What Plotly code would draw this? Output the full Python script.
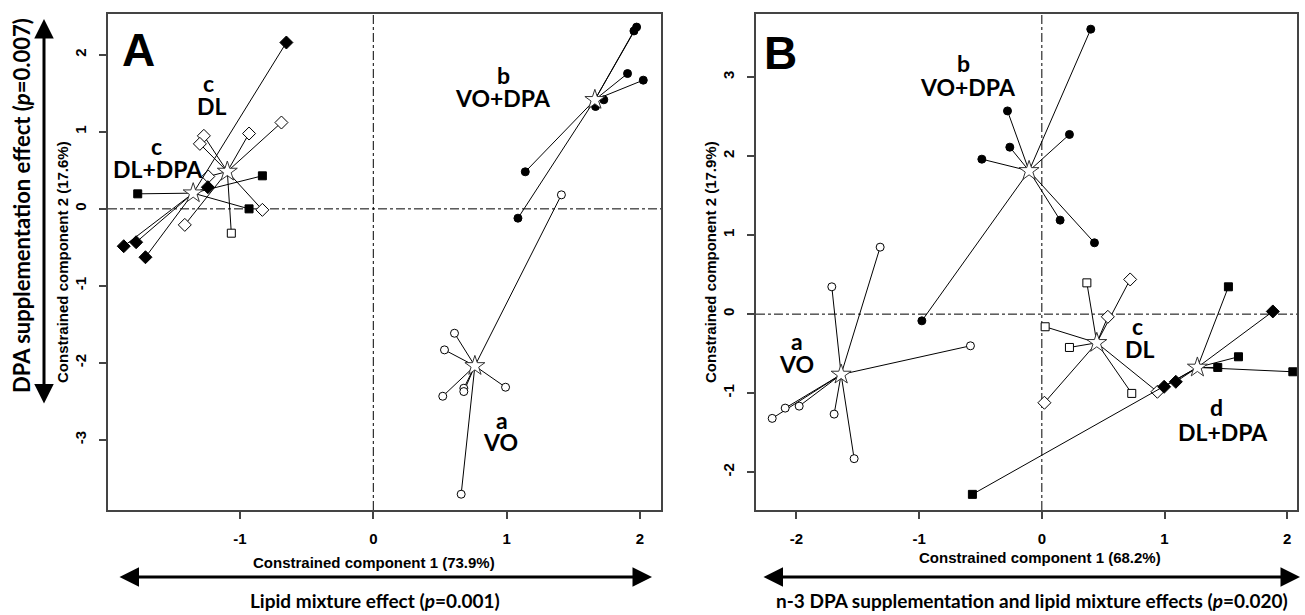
import plotly.graph_objects as go

W, H = 1305, 615

# ---------------- Panel A data ----------------
A_VO_x = [1.411, 0.609, 0.534, 0.521, 0.679, 0.679, 0.992, 0.659]
A_VO_y = [0.182, -1.615, -1.831, -2.433, -2.329, -2.372, -2.316, -3.705]
A_VO_sym = ["circle"] * 8
A_VO_c = (0.762, -2.039)

A_VODPA_x = [1.975, 1.955, 1.907, 2.025, 1.729, 1.667, 1.140, 1.085]
A_VODPA_y = [2.36, 2.31, 1.757, 1.671, 1.416, 1.329, 0.481, -0.121]
A_VODPA_sym = ["circle"] * 8
A_VODPA_c = (1.662, 1.416)

A_DL_x = [-1.271, -1.301, -0.932, -0.689, -0.832, -1.414, -1.065, -1.238]
A_DL_y = [0.948, 0.844, 0.978, 1.121, -0.013, -0.208, -0.316, 0.42]
A_DL_sym = ["diamond", "diamond", "diamond", "diamond", "diamond", "diamond", "square", "diamond"]
A_DL_c = (-1.095, 0.485)

A_DLDPA_x = [-0.652, -1.767, -0.832, -0.932, -1.241, -1.872, -1.779, -1.709]
A_DLDPA_y = [2.16, 0.195, 0.429, 0.0, 0.281, -0.485, -0.433, -0.628]
A_DLDPA_sym = ["diamond", "square", "square", "square", "diamond", "diamond", "diamond", "diamond"]
A_DLDPA_c = (-1.351, 0.204)

# ---------------- Panel B data ----------------
B_VO_x = [-1.318, -1.712, -0.582, -2.092, -1.978, -2.198, -1.693, -1.53]
B_VO_y = [0.848, 0.346, -0.401, -1.19, -1.165, -1.32, -1.266, -1.83]
B_VO_sym = ["circle"] * 8
B_VO_c = (-1.636, -0.764)

B_VODPA_x = [-0.28, -0.261, -0.489, 0.399, 0.225, 0.149, 0.429, -0.978]
B_VODPA_y = [2.573, 2.114, 1.962, 3.608, 2.275, 1.19, 0.903, -0.085]
B_VODPA_sym = ["circle"] * 8
B_VODPA_c = (-0.104, 1.814)

B_DL_x = [0.367, 0.72, 0.538, 0.027, 0.225, 0.021, 0.733, 0.942]
B_DL_y = [0.396, 0.439, -0.034, -0.16, -0.422, -1.122, -1.004, -0.983]
B_DL_sym = ["square", "diamond", "diamond", "square", "square", "diamond", "square", "diamond"]
B_DL_c = (0.448, -0.363)

B_DLDPA_x = [1.521, 1.883, 1.603, 1.434, 2.046, 1.092, 0.997, -0.566]
B_DLDPA_y = [0.346, 0.034, -0.54, -0.675, -0.73, -0.857, -0.92, -2.282]
B_DLDPA_sym = ["square", "diamond", "square", "square", "square", "diamond", "diamond", "square"]
B_DLDPA_c = (1.268, -0.675)

A_xticks = [-1, 0, 1, 2]
A_yticks = [-3, -2, -1, 0, 1, 2]
B_xticks = [-2, -1, 0, 1, 2]
B_yticks = [-2, -1, 0, 1, 2, 3]

fig = go.Figure()

SIZES = {"circle": 8, "square": 8, "diamond": 10}


def add_group(xs, ys, syms, cen, filled, xa, ya):
    lx, ly = [], []
    for x, y in zip(xs, ys):
        lx += [x, cen[0], None]
        ly += [y, cen[1], None]
    fig.add_trace(go.Scatter(x=lx, y=ly, mode="lines", xaxis=xa, yaxis=ya,
                             line=dict(color="black", width=1), hoverinfo="skip"))
    fig.add_trace(go.Scatter(
        x=xs, y=ys, mode="markers", xaxis=xa, yaxis=ya,
        marker=dict(symbol=syms, size=[SIZES[s] for s in syms],
                    color="black" if filled else "white", opacity=1,
                    line=dict(color="black", width=1))))
    fig.add_trace(go.Scatter(
        x=[cen[0]], y=[cen[1]], mode="markers", xaxis=xa, yaxis=ya,
        marker=dict(symbol="star", size=15, color="white",
                    line=dict(color="#333333", width=1))))


add_group(A_VO_x, A_VO_y, A_VO_sym, A_VO_c, False, "x", "y")
add_group(A_VODPA_x, A_VODPA_y, A_VODPA_sym, A_VODPA_c, True, "x", "y")
add_group(A_DL_x, A_DL_y, A_DL_sym, A_DL_c, False, "x", "y")
add_group(A_DLDPA_x, A_DLDPA_y, A_DLDPA_sym, A_DLDPA_c, True, "x", "y")
add_group(B_VO_x, B_VO_y, B_VO_sym, B_VO_c, False, "x2", "y2")
add_group(B_VODPA_x, B_VODPA_y, B_VODPA_sym, B_VODPA_c, True, "x2", "y2")
add_group(B_DL_x, B_DL_y, B_DL_sym, B_DL_c, False, "x2", "y2")
add_group(B_DLDPA_x, B_DLDPA_y, B_DLDPA_sym, B_DLDPA_c, True, "x2", "y2")


def px(x):
    return x / W


def py(y):
    return 1 - y / H


TICKFONT = dict(family="Liberation Sans, Arial, sans-serif", size=15,
                color="black", weight="bold")
axis_common = dict(showgrid=False, zeroline=False, showline=True, mirror=True,
                   linecolor="#444444", linewidth=1.5, ticks="outside", ticklen=7,
                   tickwidth=1.5, tickcolor="#444444", tickfont=TICKFONT,
                   ticklabelstandoff=7)


def labels(v):
    return ["<b>%d</b>" % t for t in v]


fig.update_layout(
    width=W, height=H, margin=dict(l=0, r=0, t=0, b=0),
    paper_bgcolor="white", plot_bgcolor="white", showlegend=False,
    xaxis=dict(domain=[px(108), px(661)], range=[-1.99, 2.158], tickvals=A_xticks,
               ticktext=labels(A_xticks), anchor="y", **axis_common),
    yaxis=dict(domain=[py(510), py(14)], range=[-3.91, 2.53], tickvals=A_yticks,
               ticktext=labels(A_yticks), tickangle=-90, anchor="x", **axis_common),
    xaxis2=dict(domain=[px(756), px(1297)], range=[-2.33, 2.08], tickvals=B_xticks,
                ticktext=labels(B_xticks), anchor="y2", **axis_common),
    yaxis2=dict(domain=[py(510), py(14)], range=[-2.48, 3.80], tickvals=B_yticks,
                ticktext=labels(B_yticks), tickangle=-90, anchor="x2", **axis_common),
)

# zero reference lines (dash-dot)
for xr, yr in [("x", "y"), ("x2", "y2")]:
    fig.add_shape(type="line", xref=xr, yref=yr + " domain", x0=0, x1=0, y0=0, y1=1,
                  line=dict(color="black", width=1, dash="dashdot"), layer="below")
    fig.add_shape(type="line", xref=xr + " domain", yref=yr, x0=0, x1=1, y0=0, y1=0,
                  line=dict(color="black", width=1, dash="dashdot"), layer="below")

LBL = dict(family="Lato, Open Sans, sans-serif", size=23, color="black", weight="bold")
BIG = dict(family="Liberation Sans, Arial, sans-serif", size=46, color="black", weight="bold")
AX = dict(family="Liberation Sans, Arial, sans-serif", size=15,
          color="black", weight="bold")
EFF = dict(family="Lato, Open Sans, sans-serif", size=19, color="black", weight="bold")


def text(t, x, y, font, angle=0):
    fig.add_annotation(text=t, x=px(x), y=py(y), xref="paper", yref="paper",
                       showarrow=False, xanchor="center", yanchor="middle",
                       font=font, textangle=angle)


# panel letters
text("A", 138, 50, BIG)
text("B", 780, 53, BIG)

# group labels panel A
text("c", 208, 83, LBL)
text("DL", 212, 106, LBL)
text("c", 156, 146, LBL)
text("DL+DPA", 158, 169, LBL)
text("b", 503, 75, LBL)
text("VO+DPA", 503, 98, LBL)
text("a", 502, 420, LBL)
text("VO", 500, 442, LBL)

# group labels panel B
text("b", 963, 63, LBL)
text("VO+DPA", 968, 87, LBL)
text("a", 797, 341, LBL)
text("VO", 796, 364, LBL)
text("c", 1137, 326, LBL)
text("DL", 1139, 349, LBL)
text("d", 1216, 407, LBL)
text("DL+DPA", 1223, 432, LBL)

# axis titles
text("<b>Constrained component 1 (73.9%)</b>", 374, 562, AX)
text("<b>Constrained component 1 (68.2%)</b>", 1040, 557, AX)
text("<b>Constrained component 2 (17.6%)</b>", 62, 262, AX, -90)
text("<b>Constrained component 2 (17.9%)</b>", 710, 262, AX, -90)

# effect labels
text("Lipid mixture effect (<i>p</i>=0.001)", 375, 600, EFF)
text("n-3 DPA supplementation and lipid mixture effects (<i>p</i>=0.020)", 1032, 600, EFF)
text("DPA supplementation effect (<i>p</i>=0.007)", 21, 206, dict(EFF, size=22), -90)


# double-headed arrows
def arrow(x_head, y_head, ax, ay):
    fig.add_annotation(text="", x=px(x_head), y=py(y_head), xref="paper", yref="paper",
                       ax=ax, ay=ay, axref="pixel", ayref="pixel", showarrow=True,
                       arrowside="end+start", arrowhead=2, arrowsize=1.3, arrowwidth=3,
                       arrowcolor="black", standoff=0, startstandoff=0)


arrow(652, 577, -534, 0)
arrow(1300, 577, -538, 0)
arrow(44, 19, 0, 386)

fig.write_html("out.html", config={"displayModeBar": False},
               post_script="document.body.style.margin='0';document.body.style.overflow='hidden';")
